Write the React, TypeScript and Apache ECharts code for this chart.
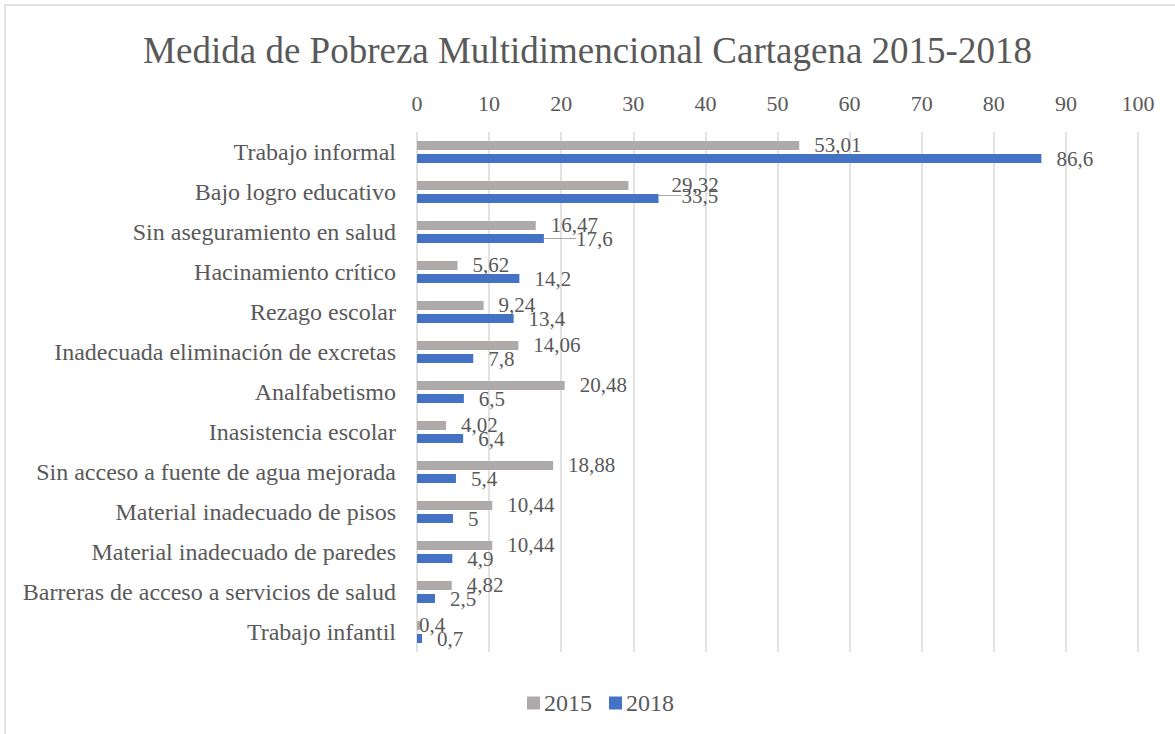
import React, { useEffect, useRef } from "react";
import * as echarts from "echarts";

const TITLE = "Medida de Pobreza Multidimencional Cartagena 2015-2018";
const categories = [
  "Trabajo informal",
  "Bajo logro educativo",
  "Sin aseguramiento en salud",
  "Hacinamiento crítico",
  "Rezago escolar",
  "Inadecuada eliminación de excretas",
  "Analfabetismo",
  "Inasistencia escolar",
  "Sin acceso a fuente de agua mejorada",
  "Material inadecuado de pisos",
  "Material inadecuado de paredes",
  "Barreras de acceso a servicios de salud",
  "Trabajo infantil",
];
const values2015 = [53.01, 29.32, 16.47, 5.62, 9.24, 14.06, 20.48, 4.02, 18.88, 10.44, 10.44, 4.82, 0.4];
const values2018 = [86.6, 33.5, 17.6, 14.2, 13.4, 7.8, 6.5, 6.4, 5.4, 5, 4.9, 2.5, 0.7];
const seriesNames = ["2015", "2018"];

// label nudges (Excel-like overlap avoidance), keyed by data index
const nudge2015: Record<number, [number, number]> = { 1: [28, 0], 12: [-16, 0] };
const nudge2018: Record<number, [number, number]> = { 1: [8, -3], 2: [17, 0] };

const fmt = (v: number) => String(v).replace(".", ",");
const FONT = "Times New Roman, Liberation Serif, serif";
const TXT = "#595959";

export default function App() {
  const ref = useRef<HTMLDivElement>(null);
  useEffect(() => {
    document.body.style.margin = "0";
    const chart = echarts.init(ref.current!, null, { renderer: "svg" });
    const mkLabel = () => ({
      show: true,
      position: "right",
      distance: 15,
      color: TXT,
      fontFamily: FONT,
      fontSize: 21,
      formatter: (p: any) => fmt(p.value),
    });
    const data2018 = values2018.map((v, i) =>
      nudge2018[i]
        ? { value: v, labelLine: { show: true, lineStyle: { color: "#a6a6a6", width: 1 } } }
        : { value: v, labelLine: { show: false } }
    );
    chart.setOption({
      animation: false,
      backgroundColor: "#fff",
      textStyle: { fontFamily: FONT },
      title: {
        text: TITLE,
        left: "center",
        top: 27,
        textStyle: { fontFamily: FONT, fontSize: 37, fontWeight: "normal", color: TXT },
      },
      graphic: [
        {
          type: "rect",
          shape: { x: 5, y: 5, width: 1300, height: 1000 },
          style: { fill: "none", stroke: "#d9d9d9", lineWidth: 1.5 },
          silent: true,
        },
      ],
      legend: {
        top: 686,
        left: 522,
        itemWidth: 13,
        itemHeight: 13,
        itemGap: 17,
        icon: "rect",
        textStyle: { fontFamily: FONT, fontSize: 24, color: TXT, padding: [0, 0, 0, -1] },
        data: seriesNames,
      },
      grid: { left: 417, right: 37, top: 132, bottom: 82, containLabel: false },
      xAxis: {
        type: "value",
        position: "top",
        min: 0,
        max: 100,
        interval: 10,
        axisLine: { show: false },
        axisTick: { show: false },
        axisLabel: { color: TXT, fontFamily: FONT, fontSize: 22, margin: 18 },
        splitLine: { show: true, lineStyle: { color: "#d9d9d9", width: 1.5 } },
      },
      yAxis: {
        type: "category",
        inverse: true,
        data: categories,
        axisLine: { show: false },
        axisTick: { show: false },
        axisLabel: { color: TXT, fontFamily: FONT, fontSize: 24, margin: 21 },
      },
      series: [
        {
          name: seriesNames[0],
          type: "bar",
          data: values2015,
          barWidth: 9,
          barGap: "45%",
          itemStyle: { color: "#aeaaaa" },
          label: mkLabel(),
          labelLayout: (p: any) => {
            const n = nudge2015[p.dataIndex];
            return n ? { dx: n[0], dy: n[1] } : {};
          },
        },
        {
          name: seriesNames[1],
          type: "bar",
          data: data2018,
          barWidth: 9,
          barGap: "45%",
          itemStyle: { color: "#4472c4" },
          label: mkLabel(),
          labelLayout: (p: any) => {
            const n = nudge2018[p.dataIndex];
            return n ? { dx: n[0], dy: n[1] } : {};
          },
        },
      ],
    });
    return () => chart.dispose();
  }, []);
  return <div ref={ref} style={{ width: 1175, height: 734 }} />;
}
